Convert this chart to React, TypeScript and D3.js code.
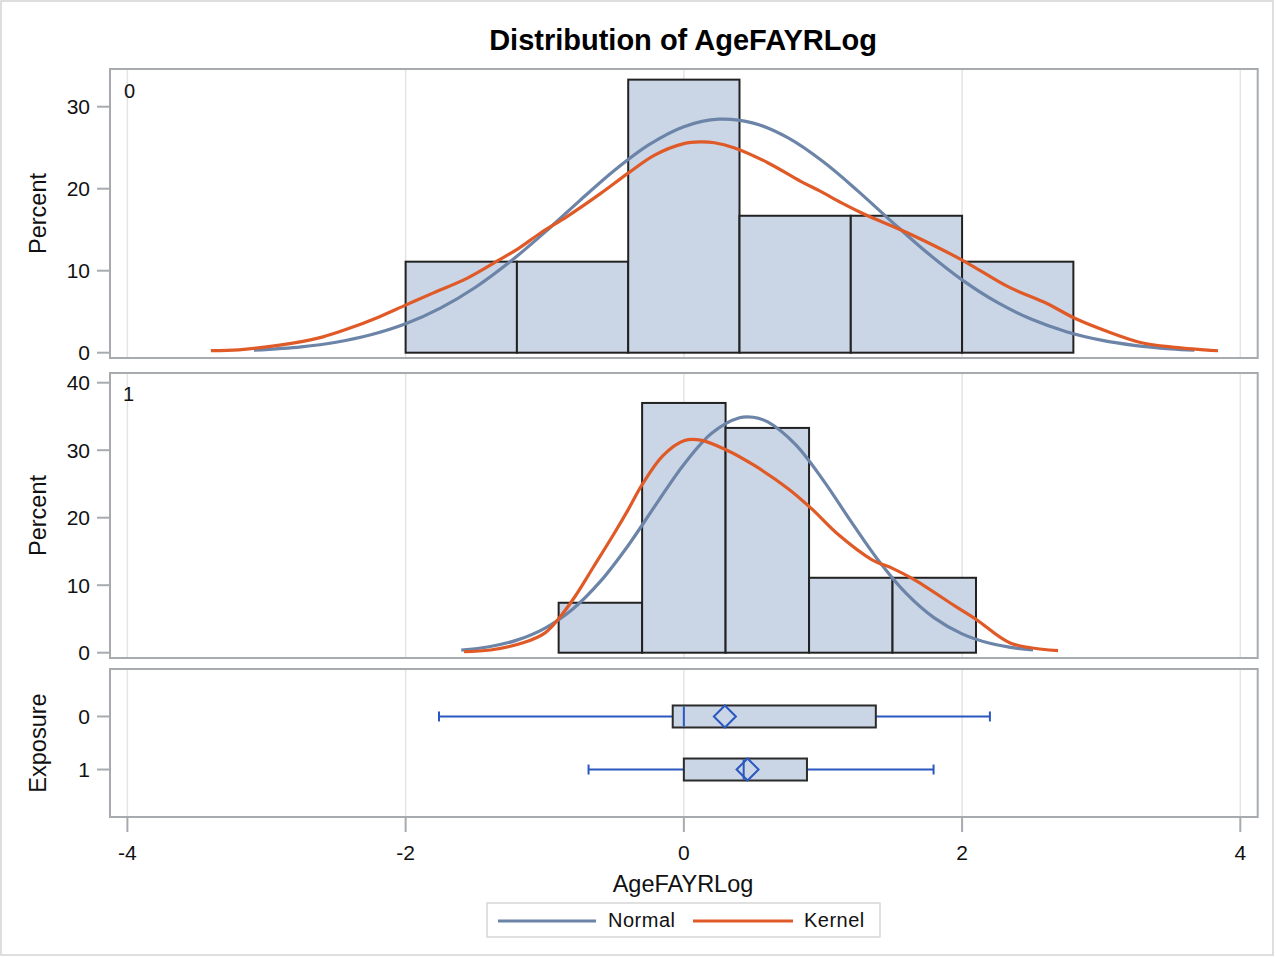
import React from "react";
import * as d3 from "d3";

// ---------- data ----------
const xTicks = [-4, -2, 0, 2, 4];
const topYTicks = [0, 10, 20, 30];
const midYTicks = [0, 10, 20, 30, 40];
const exposureGroups = ["0", "1"];

const topBinEdges = [-2.0, -1.2, -0.4, 0.4, 1.2, 2.0, 2.8];
const topPercents = [11.1, 11.1, 33.3, 16.7, 16.7, 11.1];
const midBinEdges = [-0.9, -0.3, 0.3, 0.9, 1.5, 2.1];
const midPercents = [7.4, 37.0, 33.3, 11.1, 11.1];

const topNormal: [number, number][] = [
  [-3.09, 0.3], [-2.75, 0.72], [-2.5, 1.28], [-2.25, 2.18], [-2.0, 3.52], [-1.75, 5.43],
  [-1.5, 7.95], [-1.25, 11.08], [-1.0, 14.68], [-0.75, 18.52], [-0.5, 22.22], [-0.25, 25.37],
  [0.0, 27.56], [0.25, 28.48], [0.5, 28.0], [0.75, 26.19], [1.0, 23.31], [1.25, 19.74],
  [1.5, 15.9], [1.75, 12.18], [2.0, 8.88], [2.25, 6.16], [2.5, 4.07], [2.75, 2.56],
  [3.0, 1.53], [3.25, 0.87], [3.5, 0.47], [3.67, 0.3],
];
const topKernel: [number, number][] = [
  [-3.4, 0.25], [-3.2, 0.35], [-3.0, 0.7], [-2.8, 1.2], [-2.6, 1.9], [-2.4, 3.0], [-2.2, 4.3],
  [-2.0, 5.8], [-1.8, 7.3], [-1.556, 9.1], [-1.34, 11.2], [-1.19, 12.7], [-1.03, 14.6],
  [-0.84, 16.6], [-0.6, 19.4], [-0.4, 21.9], [-0.21, 24.1], [0.0, 25.5], [0.12, 25.7],
  [0.22, 25.6], [0.36, 25.0], [0.6, 23.2], [0.84, 20.9], [0.98, 19.7], [1.13, 18.3],
  [1.29, 16.95], [1.61, 14.6], [2.0, 11.3], [2.33, 8.05], [2.61, 6.0], [2.81, 4.2],
  [3.05, 2.56], [3.29, 1.22], [3.53, 0.66], [3.84, 0.24],
];
const midNormal: [number, number][] = [
  [-1.6, 0.38], [-1.4, 0.88], [-1.2, 1.86], [-1.0, 3.61], [-0.8, 6.44], [-0.6, 10.56],
  [-0.4, 15.89], [-0.2, 21.97], [0.0, 27.89], [0.2, 32.51], [0.4, 34.81], [0.5, 34.88],
  [0.6, 34.22], [0.8, 30.89], [1.0, 25.61], [1.2, 19.49], [1.4, 13.63], [1.6, 8.75],
  [1.8, 5.16], [2.0, 2.79], [2.2, 1.39], [2.4, 0.63], [2.51, 0.4],
];
const midKernel: [number, number][] = [
  [-1.58, 0.15], [-1.39, 0.4], [-1.15, 1.5], [-1.0, 2.9], [-0.89, 5.3], [-0.78, 8.4],
  [-0.65, 12.7], [-0.5, 17.7], [-0.4, 21.2], [-0.3, 24.9], [-0.15, 29.2], [0.0, 31.4],
  [0.12, 31.5], [0.31, 30.0], [0.51, 27.7], [0.75, 24.3], [0.92, 21.3], [1.11, 17.5],
  [1.35, 13.8], [1.5, 12.5], [1.65, 10.9], [1.95, 6.9], [2.11, 4.8], [2.35, 1.4], [2.69, 0.3],
];

const boxMin = [-1.76, -0.685];
const boxQ1 = [-0.08, 0.0];
const boxMedian = [0.0, 0.43];
const boxMean = [0.295, 0.458];
const boxQ3 = [1.38, 0.885];
const boxMax = [2.2, 1.795];

// ---------- style ----------
const FONT = "'Liberation Sans', Arial, sans-serif";
const FRAME = "#a7abaf";
const GRID = "#e4e4e4";
const BAR_FILL = "#cad5e5";
const BAR_STROKE = "#222222";
const NORMAL = "#6b84a8";
const KERNEL = "#e05a27";
const WHISKER = "#2a57c0";

const W = 1276;
const H = 957;
const PX0 = 110;
const PX1 = 1257.7;
const topPanel = { y0: 69, y1: 358 };
const midPanel = { y0: 373, y1: 658 };
const boxPanel = { y0: 669, y1: 817 };

const x = d3.scaleLinear().domain([-4.125, 4.125]).range([PX0, PX1]);
const yTop = d3.scaleLinear().domain([0, 30]).range([352.7, 106.7]);
const yMid = d3.scaleLinear().domain([0, 40]).range([652.7, 382.7]);
const yBox = d3.scalePoint<string>().domain(exposureGroups).range([boxPanel.y0, boxPanel.y1]).padding(0.895);

function Panel({ p }: { p: { y0: number; y1: number } }) {
  return (
    <g>
      {xTicks.map((t) => (
        <line key={t} x1={x(t)} x2={x(t)} y1={p.y0} y2={p.y1} stroke={GRID} strokeWidth={1.5} />
      ))}
    </g>
  );
}

function PanelFrame({ p }: { p: { y0: number; y1: number } }) {
  return <rect x={PX0} y={p.y0} width={PX1 - PX0} height={p.y1 - p.y0} fill="none" stroke={FRAME} strokeWidth={2} />;
}

function YAxis({ scale, ticks, p, label }: { scale: any; ticks: number[]; p: { y0: number; y1: number }; label: string }) {
  return (
    <g>
      {ticks.map((t) => (
        <g key={t}>
          <line x1={97} x2={PX0} y1={scale(t)} y2={scale(t)} stroke={FRAME} strokeWidth={2} />
          <text x={90} y={scale(t)} dy="0.36em" textAnchor="end" fontSize={21} fontFamily={FONT} fill="#111">
            {t}
          </text>
        </g>
      ))}
      <text
        transform={`translate(46,${(p.y0 + p.y1) / 2}) rotate(-90)`}
        textAnchor="middle"
        fontSize={23.5}
        fontFamily={FONT}
        fill="#111"
      >
        {label}
      </text>
    </g>
  );
}

function Histogram({ edges, values, y }: { edges: number[]; values: number[]; y: any }) {
  return (
    <g>
      {values.map((v, i) => (
        <rect
          key={i}
          x={x(edges[i])}
          y={y(v)}
          width={x(edges[i + 1]) - x(edges[i])}
          height={y(0) - y(v)}
          fill={BAR_FILL}
          stroke={BAR_STROKE}
          strokeWidth={2}
        />
      ))}
    </g>
  );
}

function Curve({ pts, y, color }: { pts: [number, number][]; y: any; color: string }) {
  const gen = d3
    .line<[number, number]>()
    .x((d) => x(d[0]))
    .y((d) => y(d[1]))
    .curve(d3.curveCatmullRom.alpha(0.5));
  return <path d={gen(pts) || ""} fill="none" stroke={color} strokeWidth={3.2} strokeLinejoin="round" />;
}

export default function App() {
  const boxH = 22;
  const dia = 11;
  return (
    <svg width={W} height={H} style={{ position: "absolute", left: 0, top: 0, background: "#fff" }}>
      <rect x={1} y={1} width={W - 4} height={H - 3} fill="#fff" stroke="#d4d4d4" strokeWidth={1.5} />
      <text x={683} y={50} textAnchor="middle" fontSize={29} fontWeight="bold" fontFamily={FONT} fill="#000">
        Distribution of AgeFAYRLog
      </text>

      {/* top panel */}
      <Panel p={topPanel} />
      <Histogram edges={topBinEdges} values={topPercents} y={yTop} />
      <Curve pts={topNormal} y={yTop} color={NORMAL} />
      <Curve pts={topKernel} y={yTop} color={KERNEL} />
      <PanelFrame p={topPanel} />
      <YAxis scale={yTop} ticks={topYTicks} p={topPanel} label="Percent" />
      <text x={124} y={98} fontSize={20} fontFamily={FONT} fill="#111">
        0
      </text>

      {/* middle panel */}
      <Panel p={midPanel} />
      <Histogram edges={midBinEdges} values={midPercents} y={yMid} />
      <Curve pts={midNormal} y={yMid} color={NORMAL} />
      <Curve pts={midKernel} y={yMid} color={KERNEL} />
      <PanelFrame p={midPanel} />
      <YAxis scale={yMid} ticks={midYTicks} p={midPanel} label="Percent" />
      <text x={123} y={401} fontSize={20} fontFamily={FONT} fill="#111">
        1
      </text>

      {/* box panel */}
      <Panel p={boxPanel} />
      {exposureGroups.map((g, i) => {
        const cy = yBox(g) as number;
        return (
          <g key={g}>
            <line x1={x(boxMin[i])} x2={x(boxQ1[i])} y1={cy} y2={cy} stroke={WHISKER} strokeWidth={2} />
            <line x1={x(boxQ3[i])} x2={x(boxMax[i])} y1={cy} y2={cy} stroke={WHISKER} strokeWidth={2} />
            <line x1={x(boxMin[i])} x2={x(boxMin[i])} y1={cy - 5} y2={cy + 5} stroke={WHISKER} strokeWidth={2} />
            <line x1={x(boxMax[i])} x2={x(boxMax[i])} y1={cy - 5} y2={cy + 5} stroke={WHISKER} strokeWidth={2} />
            <rect
              x={x(boxQ1[i])}
              y={cy - boxH / 2}
              width={x(boxQ3[i]) - x(boxQ1[i])}
              height={boxH}
              fill={BAR_FILL}
              stroke="#2b2b2b"
              strokeWidth={2}
            />
            <line x1={x(boxMedian[i])} x2={x(boxMedian[i])} y1={cy - boxH / 2 + 1} y2={cy + boxH / 2 - 1} stroke={WHISKER} strokeWidth={2} />
            <path
              d={`M${x(boxMean[i])},${cy - dia} L${x(boxMean[i]) + dia},${cy} L${x(boxMean[i])},${cy + dia} L${x(boxMean[i]) - dia},${cy} Z`}
              fill="none"
              stroke={WHISKER}
              strokeWidth={2}
            />
          </g>
        );
      })}
      <PanelFrame p={boxPanel} />
      {exposureGroups.map((g) => (
        <g key={g}>
          <line x1={97} x2={PX0} y1={yBox(g)} y2={yBox(g)} stroke={FRAME} strokeWidth={2} />
          <text x={90} y={yBox(g)} dy="0.36em" textAnchor="end" fontSize={21} fontFamily={FONT} fill="#111">
            {g}
          </text>
        </g>
      ))}
      <text
        transform={`translate(46,${(boxPanel.y0 + boxPanel.y1) / 2}) rotate(-90)`}
        textAnchor="middle"
        fontSize={23.5}
        fontFamily={FONT}
        fill="#111"
      >
        Exposure
      </text>

      {/* x axis */}
      {xTicks.map((t) => (
        <g key={t}>
          <line x1={x(t)} x2={x(t)} y1={boxPanel.y1} y2={boxPanel.y1 + 15} stroke={FRAME} strokeWidth={2} />
          <text x={x(t)} y={boxPanel.y1 + 35} dy="0.36em" textAnchor="middle" fontSize={21} fontFamily={FONT} fill="#111">
            {t}
          </text>
        </g>
      ))}
      <text x={683} y={892} textAnchor="middle" fontSize={23.5} fontFamily={FONT} fill="#111">
        AgeFAYRLog
      </text>

      {/* legend */}
      <rect x={487} y={903} width={393} height={34} fill="#fff" stroke="#d6d6d6" strokeWidth={1.5} />
      <line x1={498} x2={596} y1={921} y2={921} stroke={NORMAL} strokeWidth={3} />
      <text x={608} y={927} fontSize={20} fontFamily={FONT} fill="#111" letterSpacing={0.5}>
        Normal
      </text>
      <line x1={693} x2={793} y1={921} y2={921} stroke={KERNEL} strokeWidth={3} />
      <text x={804} y={927} fontSize={20} fontFamily={FONT} fill="#111" letterSpacing={0.5}>
        Kernel
      </text>
    </svg>
  );
}
